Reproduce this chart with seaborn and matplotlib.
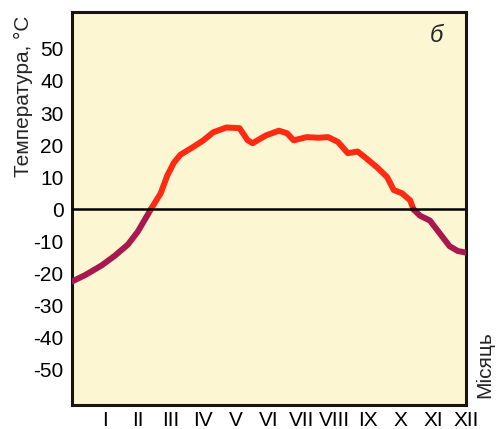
import matplotlib.pyplot as plt
import seaborn as sns
import pandas as pd
import numpy as np

# Temperature curve (x = month position, 0..12)
months = [0.0, 0.4, 0.9, 1.3, 1.7, 2.0, 2.2, 2.4, 2.7, 2.9, 3.1, 3.3, 3.7, 4.0, 4.3,
          4.7, 5.1, 5.35, 5.5, 5.9, 6.3, 6.55, 6.75, 7.15, 7.5, 7.8, 8.1, 8.4, 8.7,
          8.9, 9.3, 9.6, 9.8, 10.05, 10.3, 10.4, 10.6, 10.9, 11.2, 11.5, 11.75, 12.0]
temps = [-22.5, -20.5, -17.5, -14.5, -11.0, -7.0, -3.5, 0.0, 5.0, 10.5, 14.5, 17.0, 19.5, 21.5, 24.0,
         25.5, 25.3, 21.5, 20.6, 23.0, 24.5, 23.7, 21.5, 22.5, 22.3, 22.5, 21.0, 17.5, 18.0,
         16.4, 13.0, 10.0, 6.0, 5.0, 2.8, 0.0, -2.0, -3.5, -7.5, -11.5, -13.0, -13.5]
month_labels = ['I', 'II', 'III', 'IV', 'V', 'VI', 'VII', 'VIII', 'IX', 'X', 'XI', 'XII']
y_ticks = [-50, -40, -30, -20, -10, 0, 10, 20, 30, 40, 50]

sns.set_style('white')
plt.rcParams['font.family'] = ['Liberation Sans', 'DejaVu Sans']

fig = plt.figure(figsize=(4.97, 4.29), dpi=100)
ax = fig.add_axes([0.145, 0.056, 0.7926, 0.916])
ax.set_facecolor('#fcf6d2')

pts = pd.DataFrame({'month': months, 'temp': temps})
cross = list(np.where(pts['temp'].to_numpy() == 0)[0])
bounds = [0] + cross + [len(pts) - 1]
for a, b in zip(bounds[:-1], bounds[1:]):
    seg = pts.iloc[a:b + 1]
    color = '#ff2a12' if seg['temp'].mean() > 0 else '#a8184f'
    sns.lineplot(data=seg, x='month', y='temp', sort=False, color=color, lw=4.3,
                 ax=ax, solid_capstyle='round', solid_joinstyle='round', zorder=3)

ax.axhline(0, color='black', lw=1.8, zorder=4)

ax.set_xlim(0, 12)
ax.set_ylim(-61, 61.5)
ax.set_xticks(range(1, 13))
ax.set_xticklabels(month_labels, fontsize=15)
ax.set_yticks(y_ticks)
ax.set_yticklabels([str(v) for v in y_ticks], fontsize=15)
ax.tick_params(axis='both', direction='in', length=7, width=2.2, colors='black')
ax.tick_params(axis='y', pad=6)
ax.tick_params(axis='x', pad=4)
ax.set_xlabel('')
ax.set_ylabel('')
for s in ax.spines.values():
    s.set_linewidth(2.2)
    s.set_color('#1a1410')

ax.text(0.926, 0.94, 'б', transform=ax.transAxes, fontsize=17, style='italic',
        ha='center', va='center')
fig.text(0.047, 0.776, 'Температура, °C', rotation=90, fontsize=15, ha='center', va='center')
fig.text(0.975, 0.15, 'Місяць', rotation=90, fontsize=15, ha='center', va='center')

fig.savefig('out.png', dpi=100)
